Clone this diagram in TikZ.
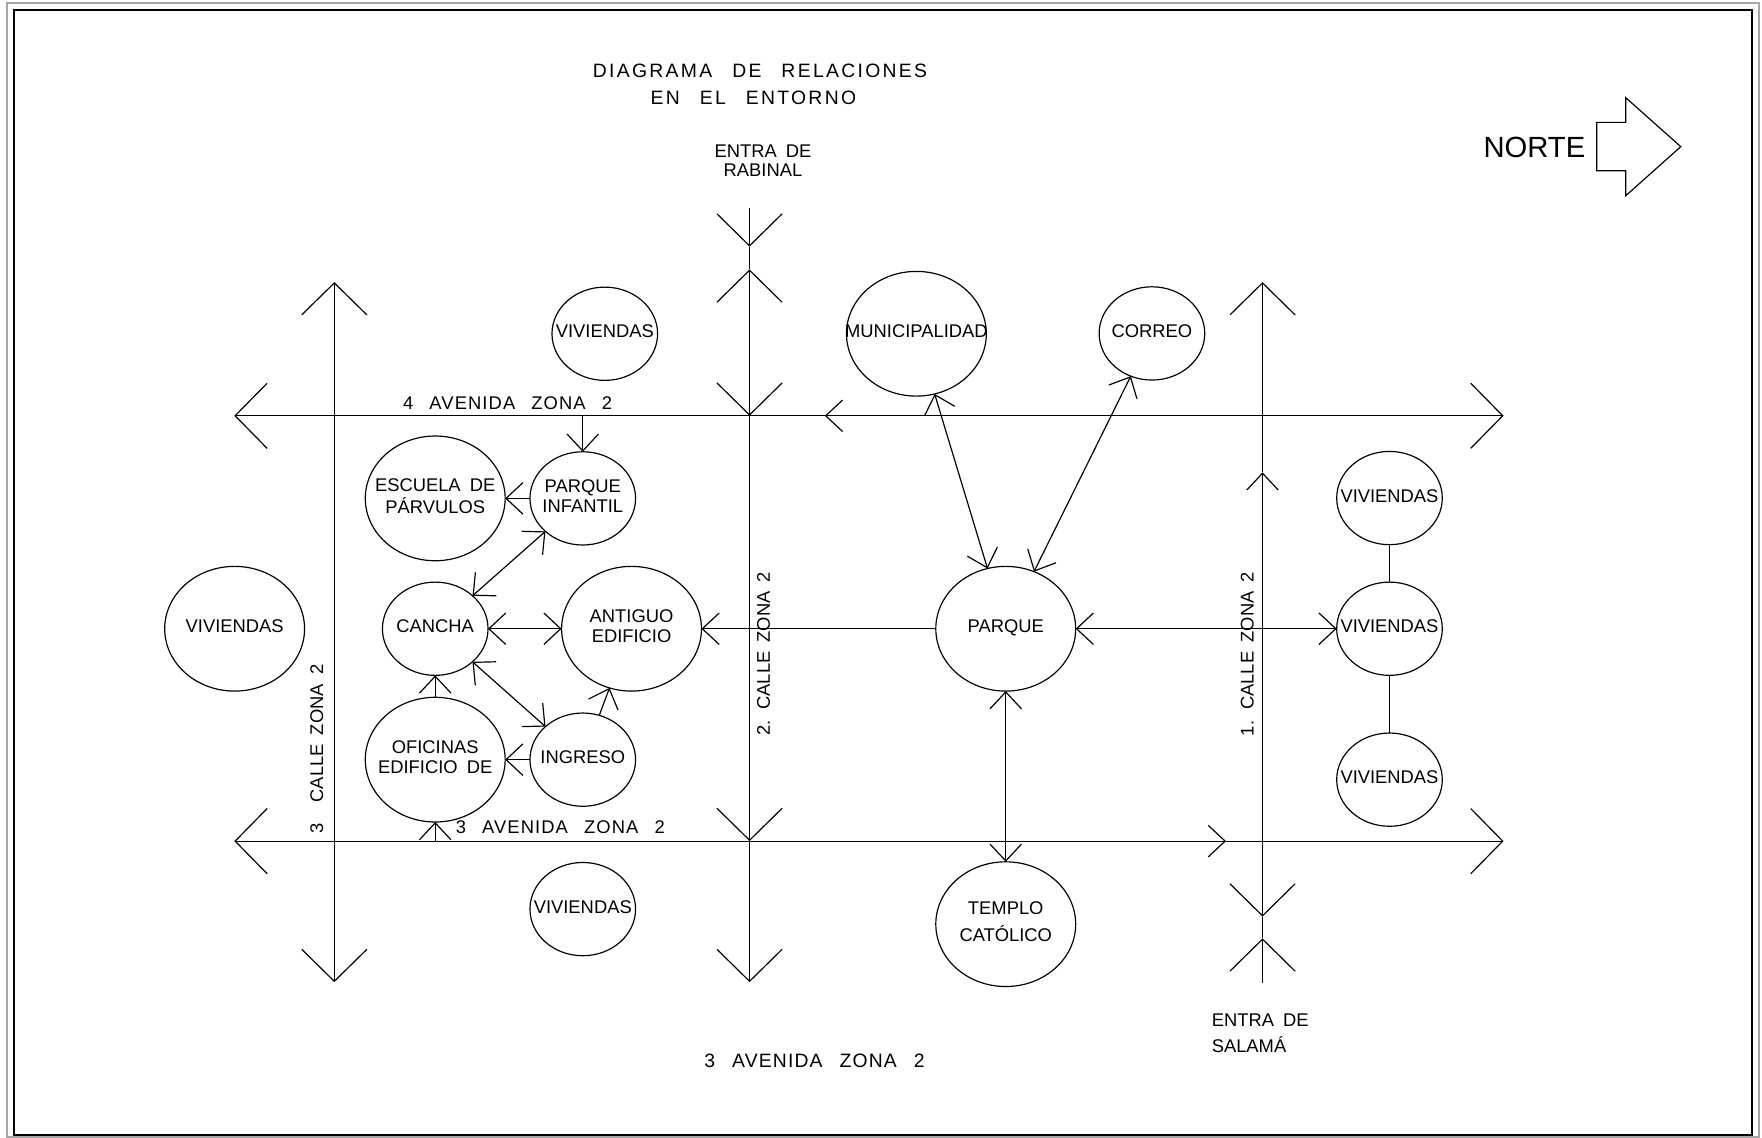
\documentclass[tikz,border=0pt]{standalone}
\usepackage{fontspec}
\setmainfont{Liberation Sans}[WordSpace=1.8]
\newfontfamily\widefont{Liberation Sans}[LetterSpace=6,WordSpace=2.6]
\newfontfamily\titlefont{Liberation Sans}[LetterSpace=12,WordSpace=2.6]
\usetikzlibrary{shapes.geometric,arrows.meta}

\newcommand{\lbl}[1]{\makebox[0pt]{\begin{tabular}{@{}c@{}}#1\end{tabular}}}

\tikzset{
  roadtip/.tip={Straight Barb[length=0.57cm,width=1.16cm]},
  linktip/.tip={Straight Barb[length=0.3cm,width=0.56cm]},
  road/.style={line width=0.6pt},
  link/.style={line width=0.6pt},
  place/.style={ellipse, draw, line width=0.6pt, inner sep=0pt, outer sep=0pt,
    font=\fontsize{9.3}{10.2}\selectfont},
  smallplace/.style={place, minimum width=1.88cm, minimum height=1.66cm},
  bigplace/.style={place, minimum width=2.49cm, minimum height=2.22cm},
  txt/.style={inner sep=0pt, font=\fontsize{9.3}{10.2}\selectfont},
}

\begin{document}
\begin{tikzpicture}[x=0.02cm, y=-0.02cm]
    \useasboundingbox (0,0) rectangle (1568,1012);
    % marco
    \draw[gray!70, line width=0.9pt] (6.2,2.7) rectangle (1565.4,1011.8);
    \draw[line width=0.7pt] (12.5,8.9) rectangle (1559.2,1010.1);

    % titulo y norte
    \node[txt, font=\fontsize{9.8}{11}\selectfont\titlefont] (titulo) at (676.3,62.6) {DIAGRAMA DE RELACIONES};
    \node[txt, font=\fontsize{9.8}{11}\selectfont\titlefont] (subtitulo) at (670.4,87.2) {EN EL ENTORNO};
    \node[txt, font=\fontsize{14.8}{16}\selectfont] (norte) at (1365.5,131.5) {NORTE};
    \draw[line width=0.6pt] (1420.9,108.9) -- (1446.7,108.9) -- (1446.7,86.9) -- (1495.7,130.5)
        -- (1446.7,174.2) -- (1446.7,151.9) -- (1420.9,151.9) -- cycle;

    % calles y avenidas
    \coordinate (h1w) at (208.5,370);
    \coordinate (h1e) at (1338,370);
    \coordinate (h1m) at (734,370);
    \coordinate (h2w) at (208.5,748.5);
    \coordinate (h2e) at (1338,748.5);
    \coordinate (h2m) at (1091,748.5);
    \coordinate (v1n) at (297.5,251);
    \coordinate (v1s) at (297.5,874);
    \coordinate (v2n) at (667,185.5);
    \coordinate (v2a) at (667,219.5);
    \coordinate (v2b) at (667,239.7);
    \coordinate (v2s) at (667,874);
    \coordinate (v3n) at (1123.5,251);
    \coordinate (v3m) at (1123.5,420.3);
    \coordinate (v3a) at (1123.5,815.7);
    \coordinate (v3b) at (1123.5,835);
    \coordinate (v3s) at (1123.5,874.5);

    \draw[road, roadtip-linktip] (h1e) -- (h1m);
    \draw[road, -roadtip] (h1m) -- (h1w);
    \draw[road, roadtip-linktip] (h2w) -- (h2m);
    \draw[road, -roadtip] (h2m) -- (h2e);
    \draw[road, roadtip-roadtip] (v1n) -- (v1s);
    \draw[road, -roadtip] (v2n) -- (v2a);
    \draw[road] (v2a) -- (v2b);
    \draw[road, roadtip-roadtip] (v2b) -- (v2b |- h1w);
    \draw[road, -roadtip] (v2b |- h1w) -- (v2b |- h2w);
    \draw[road, -roadtip] (v2b |- h2w) -- (v2s);
    \draw[road, roadtip-linktip] (v3a) -- (v3m);
    \draw[road, -roadtip] (v3m) -- (v3n);
    \draw[road] (v3a) -- (v3b);
    \draw[road, -roadtip] (v3s) -- (v3b);

    \node[txt, font=\fontsize{9.3}{10.2}\selectfont\widefont] (av4) at (451.7,358.7) {4 AVENIDA ZONA 2};
    \node[txt, font=\fontsize{9.3}{10.2}\selectfont\widefont] (av3) at (498.6,736.4) {3 AVENIDA ZONA 2};
    \node[txt, font=\fontsize{9.8}{11}\selectfont\widefont] (av3sur) at (724.8,943.6) {3 AVENIDA ZONA 2};
    \node[txt, rotate=90] (calle3) at (282,666.6) {3\hspace{6pt} CALLE ZONA 2};
    \node[txt, rotate=90] (calle2) at (679.4,581.8) {2. CALLE ZONA 2};
    \node[txt, rotate=90] (calle1) at (1110,582) {1. CALLE ZONA 2};
    \node[txt, align=center, font=\fontsize{9.3}{9.6}\selectfont] (rabinal) at (679,143) {ENTRA DE\\RABINAL};
    \node[txt, align=left, anchor=west, font=\fontsize{9.3}{9.6}\selectfont] (salama) at (1078,919.5) {ENTRA DE\\[3.4pt]SALAMÁ};

    % lugares
    \node[smallplace] (vivN) at (538.2,297) {\lbl{VIVIENDAS}};
    \node[bigplace] (muni) at (815.5,297) {\lbl{MUNICIPALIDAD}};
    \node[smallplace] (correo) at (1025.1,296.7) {\lbl{CORREO}};
    \node[bigplace] (escuela) at (387.3,443.5) {\lbl{ESCUELA DE\\PÁRVULOS}};
    \node[smallplace] (pinf) at (518.6,443.5) {\lbl{PARQUE\\INFANTIL}};
    \node[bigplace] (vivW) at (208.8,559.5) {\lbl{VIVIENDAS}};
    \node[smallplace] (cancha) at (387.3,559.5) {\lbl{CANCHA}};
    \node[bigplace] (antiguo) at (562,559.5) {\lbl{ANTIGUO\\EDIFICIO}};
    \node[bigplace] (parque) at (895,559.5) {\lbl{PARQUE}};
    \node[smallplace] (vivE1) at (1236.5,443.2) {\lbl{VIVIENDAS}};
    \node[smallplace] (vivE2) at (1236.5,559.5) {\lbl{VIVIENDAS}};
    \node[smallplace] (vivE3) at (1236.5,693.8) {\lbl{VIVIENDAS}};
    \node[bigplace] (oficinas) at (387.3,676) {\lbl{OFICINAS\\EDIFICIO DE\\ }};
    \node[smallplace] (ingreso) at (518.6,676) {\lbl{INGRESO\hspace{6.8pt}}};
    \node[smallplace] (vivS) at (518.6,809) {\lbl{VIVIENDAS}};
    \node[bigplace] (templo) at (895,822.4) {\lbl{TEMPLO\\[2.5pt]CATÓLICO}};

    % relaciones
    \draw[link, -linktip] (pinf |- h1w) -- (pinf);
    \draw[link, -linktip] (pinf) -- (escuela);
    \draw[link, linktip-linktip] (cancha) -- (pinf);
    \draw[link, linktip-linktip] (cancha) -- (antiguo);
    \draw[link, -linktip] (parque) -- (antiguo);
    \draw[link, -linktip] (oficinas) -- (cancha);
    \draw[link, linktip-linktip] (cancha) -- (ingreso);
    \draw[link, -linktip] (ingreso) -- (oficinas);
    \draw[link, -linktip] (ingreso) -- (antiguo);
    \draw[link, -linktip] (oficinas |- h2w) -- (oficinas);
    \draw[link, linktip-linktip] (muni) -- (parque);
    \draw[link, linktip-linktip] (correo) -- (parque);
    \draw[link, linktip-linktip] (parque) -- (vivE2);
    \draw[link, linktip-linktip] (parque) -- (templo);
    \foreach \a/\b in {vivE1/vivE2, vivE2/vivE3}
        \draw[link] (\a) -- (\b);
\end{tikzpicture}
\end{document}
